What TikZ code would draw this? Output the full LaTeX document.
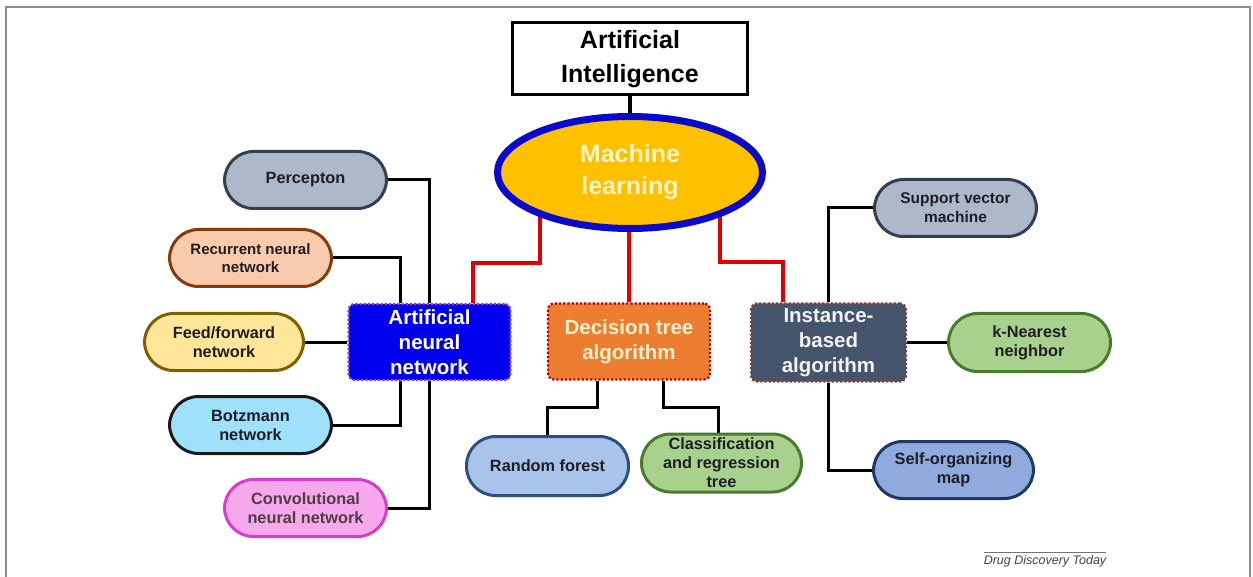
\documentclass[tikz,border=0pt]{standalone}
\usepackage{fontspec}
\setmainfont{Liberation Sans}
\usetikzlibrary{backgrounds,shapes.geometric,calc}
\definecolor{mlfill}{HTML}{FFC000}
\definecolor{mlborder}{HTML}{0A0ACC}
\definecolor{mltext}{HTML}{FFF4C8}
\definecolor{annfill}{HTML}{0000EE}
\definecolor{annborder}{HTML}{A040B0}
\definecolor{dtfill}{HTML}{ED7D31}
\definecolor{dtborder}{HTML}{C00000}
\definecolor{dttext}{HTML}{FFF2CC}
\definecolor{instfill}{HTML}{44546A}
\definecolor{instborder}{HTML}{8B3A3A}
\definecolor{slatefill}{HTML}{ADB9CA}
\definecolor{slateborder}{HTML}{323F4F}
\definecolor{peachfill}{HTML}{F8CBAD}
\definecolor{peachborder}{HTML}{843C0C}
\definecolor{yelfill}{HTML}{FFE699}
\definecolor{yelborder}{HTML}{7F6000}
\definecolor{cyanfill}{HTML}{9FE0FA}
\definecolor{cyanborder}{HTML}{1A1A1A}
\definecolor{pinkfill}{HTML}{F6A8EC}
\definecolor{pinkborder}{HTML}{D83CC8}
\definecolor{bluefill}{HTML}{A9C4EB}
\definecolor{blueborder}{HTML}{2F4F7F}
\definecolor{greenfill}{HTML}{A9D18E}
\definecolor{greenborder}{HTML}{4A7A2C}
\definecolor{somfill}{HTML}{8FAADC}
\definecolor{somborder}{HTML}{1F3864}
\definecolor{redline}{HTML}{E00000}
\definecolor{leaftext}{HTML}{1E1E24}
\tikzset{
  leaf/.style={draw, line width=3pt, rounded corners=29pt, minimum width=162pt, minimum height=57pt,
    inner sep=1pt, align=center, text=leaftext, font=\bfseries\fontsize{16.3}{19}\selectfont},
  mainbox/.style={draw, dotted, line width=2.2pt, rounded corners=6pt, minimum width=162pt, minimum height=76pt,
    inner sep=2pt, align=center, font=\bfseries\fontsize{20.5}{25}\selectfont},
  conn/.style={draw=black, line width=3pt},
  redconn/.style={draw=redline, line width=4pt}
}
\begin{document}
\begin{tikzpicture}[x=1pt,y=-1pt]
\useasboundingbox (0,0) rectangle (1253,577);
\draw[black!45, line width=1.5pt] (6,577) -- (6,7) -- (1250,7) -- (1250,577);

% top
\node[draw, line width=3pt, minimum width=235pt, minimum height=72pt, align=center,
  font=\bfseries\fontsize{25}{34}\selectfont] (ai) at (630,59) {Artificial\\Intelligence};
\node[ellipse, draw=mlborder, fill=mlfill, line width=7pt, minimum width=265pt, minimum height=112pt,
  align=center, text=mltext, font=\bfseries\fontsize{25}{32}\selectfont] (ml) at (630,172.5) {Machine\\learning};

% main boxes
\node[mainbox, fill=annfill, draw=annborder, text=white] (ann) at (429.5,342) {Artificial\\neural\\network};
\node[mainbox, fill=dtfill, draw=dtborder, text=dttext] (dt) at (629,341.5) {Decision tree\\algorithm};
\node[mainbox, fill=instfill, draw=instborder, text=white!95!black, minimum width=155pt, minimum height=78pt] (inst) at (828.5,342.5) {Instance-\\based\\algorithm};

% ANN leaves
\node[leaf, fill=slatefill, draw=slateborder] (perc) at (305.5,180) {Percepton};
\node[leaf, fill=peachfill, draw=peachborder, font=\bfseries\fontsize{15}{18.5}\selectfont] (rec) at (250.5,258) {Recurrent neural\\network};
\node[leaf, fill=yelfill, draw=yelborder, minimum width=159pt] (ff) at (224,342) {Feed/forward\\network};
\node[leaf, fill=cyanfill, draw=cyanborder] (bot) at (250.5,425) {Botzmann\\network};
\node[leaf, fill=pinkfill, draw=pinkborder, text=black!80!magenta] (conv) at (305.5,508) {Convolutional\\neural network};

% DT leaves
\node[leaf, fill=bluefill, draw=blueborder, minimum height=59pt] (rf) at (547.5,466) {Random forest};
\node[leaf, fill=greenfill, draw=greenborder, minimum width=160pt, minimum height=58pt] (cl) at (721.5,463) {Classification\\and regression\\tree};

% Instance leaves
\node[leaf, fill=slatefill, draw=slateborder, font=\bfseries\fontsize{15.5}{19}\selectfont] (svm) at (955.5,208) {Support vector\\machine};
\node[leaf, fill=greenfill, draw=greenborder, minimum height=58pt] (knn) at (1029.5,342.5) {k-Nearest\\neighbor};
\node[leaf, fill=somfill, draw=somborder, minimum width=160pt] (som) at (953.5,470) {Self-organizing\\map};

% footer
\node[inner sep=0pt, font=\itshape\fontsize{12.5}{14}\selectfont, text=black!75] (ddt) at (1045,561) {Drug Discovery Today};
\draw[black!55, line width=0.7pt] ([yshift=3pt]ddt.north west) -- ([yshift=3pt]ddt.north east);

\begin{pgfonlayer}{background}
  \draw[conn, line width=4pt] (ai.south) -- (ml.north);
  % red connectors
  \draw[redconn] ([xshift=-90pt]ml.center) |- ([xshift=43pt,yshift=40pt]ann.north) -- ([xshift=43pt]ann.north);
  \draw[redconn] (dt.north |- ml.south) -- (dt.north);
  \draw[redconn] ([xshift=90pt]ml.center) |- ([xshift=-46pt,yshift=40pt]inst.north) -- ([xshift=-46pt]inst.north);
  % ANN connectors
  \draw[conn] (perc.east) -| (ann.north);
  \draw[conn] (ann.south) |- (conv.east);
  \draw[conn] (rec.east) -| ([xshift=-29pt]ann.north);
  \draw[conn] ([xshift=-29pt]ann.south) |- (bot.east);
  \draw[conn] (ff.east) -- (ann.west);
  % DT connectors
  \draw[conn] ([xshift=-32pt]dt.south) -- ++(0,27) -| (rf.north);
  \draw[conn] ([xshift=34pt]dt.south) -- ++(0,27) -| ([xshift=-3pt]cl.north);
  % Instance connectors
  \draw[conn] (svm.west) -| (inst.north);
  \draw[conn] (inst.south) |- (som.west);
  \draw[conn] (inst.east) -- (knn.west);
\end{pgfonlayer}
\end{tikzpicture}
\end{document}
